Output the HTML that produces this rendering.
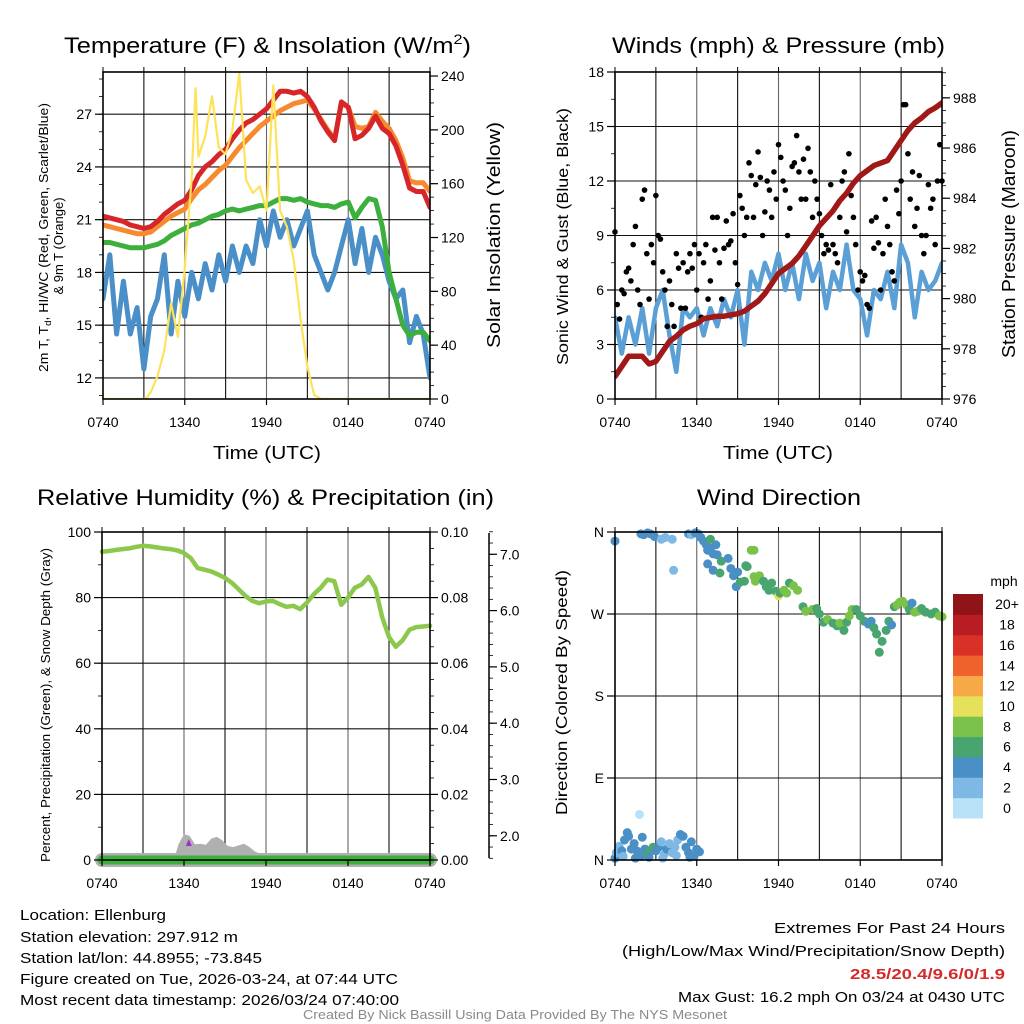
<!DOCTYPE html>
<html><head><meta charset="utf-8"><style>
html,body{margin:0;padding:0;background:#fff;}
svg{display:block;font-family:"Liberation Sans",Arial,sans-serif;}
</style></head><body>
<svg id="chart" width="1024" height="1024" viewBox="0 0 1024 1024" xmlns="http://www.w3.org/2000/svg">
<defs>
<clipPath id="c1"><rect x="103" y="72" width="327" height="327"/></clipPath>
<clipPath id="c2"><rect x="615" y="72" width="327" height="327"/></clipPath>
<clipPath id="c3"><rect x="90" y="532" width="352" height="340"/></clipPath>
<clipPath id="c4"><rect x="609" y="526" width="339" height="340"/></clipPath>
</defs>
<g id="layer-grid"></g>
<g id="layer-data"></g>
<g id="layer-axes"></g>
<g font-size="22" fill="#000">
<text x="64" y="53" textLength="407" lengthAdjust="spacingAndGlyphs">Temperature (F) &amp; Insolation (W/m<tspan dy="-9" font-size="14">2</tspan><tspan dy="9">)</tspan></text>
<text x="612" y="53" textLength="333" lengthAdjust="spacingAndGlyphs">Winds (mph) &amp; Pressure (mb)</text>
<text x="37" y="505" textLength="457" lengthAdjust="spacingAndGlyphs">Relative Humidity (%) &amp; Precipitation (in)</text>
<text x="697" y="505" textLength="164" lengthAdjust="spacingAndGlyphs">Wind Direction</text>
</g>
<g fill="#000">
<text x="213" y="459" font-size="18" textLength="108" lengthAdjust="spacingAndGlyphs">Time (UTC)</text>
<text x="723" y="459" font-size="18" textLength="110" lengthAdjust="spacingAndGlyphs">Time (UTC)</text>
<text transform="translate(48,372) rotate(-90)" font-size="13" textLength="269" lengthAdjust="spacingAndGlyphs">2m T, T<tspan font-size="9" dy="3">d</tspan><tspan dy="-3">, HI/WC (Red, Green, Scarlet/Blue)</tspan></text>
<text transform="translate(63,246) rotate(-90)" font-size="13" text-anchor="middle">&amp; 9m T (Orange)</text>
<text transform="translate(500,348) rotate(-90)" font-size="18" textLength="226" lengthAdjust="spacingAndGlyphs">Solar Insolation (Yellow)</text>
<text transform="translate(568,365) rotate(-90)" font-size="16" textLength="257" lengthAdjust="spacingAndGlyphs">Sonic Wind &amp; Gust (Blue, Black)</text>
<text transform="translate(1015,358) rotate(-90)" font-size="18" textLength="228" lengthAdjust="spacingAndGlyphs">Station Pressure (Maroon)</text>
<text transform="translate(50,862) rotate(-90)" font-size="13" textLength="314" lengthAdjust="spacingAndGlyphs">Percent, Precipitation (Green), &amp; Snow Depth (Gray)</text>
<text transform="translate(567,815) rotate(-90)" font-size="16" textLength="245" lengthAdjust="spacingAndGlyphs">Direction (Colored By Speed)</text>
<text x="1004" y="586" font-size="14" text-anchor="middle">mph</text>
</g>
<g font-size="15" fill="#000">
<text x="20" y="920" textLength="146" lengthAdjust="spacingAndGlyphs">Location: Ellenburg</text>
<text x="20" y="942" textLength="218" lengthAdjust="spacingAndGlyphs">Station elevation: 297.912 m</text>
<text x="20" y="963" textLength="242" lengthAdjust="spacingAndGlyphs">Station lat/lon: 44.8955; -73.845</text>
<text x="20" y="984" textLength="378" lengthAdjust="spacingAndGlyphs">Figure created on Tue, 2026-03-24, at 07:44 UTC</text>
<text x="20" y="1005" textLength="379" lengthAdjust="spacingAndGlyphs">Most recent data timestamp: 2026/03/24 07:40:00</text>
</g>
<g font-size="15" fill="#000">
<text x="774" y="933" textLength="231" lengthAdjust="spacingAndGlyphs">Extremes For Past 24 Hours</text>
<text x="622" y="956" textLength="383" lengthAdjust="spacingAndGlyphs">(High/Low/Max Wind/Precipitation/Snow Depth)</text>
<text x="850" y="979" textLength="155" lengthAdjust="spacingAndGlyphs" fill="#d42a2a" font-weight="bold">28.5/20.4/9.6/0/1.9</text>
<text x="678" y="1002" textLength="327" lengthAdjust="spacingAndGlyphs">Max Gust: 16.2 mph On 03/24 at 0430 UTC</text>
</g>
<text x="515" y="1019" font-size="12.5" fill="#8a8a8a" text-anchor="middle" textLength="424" lengthAdjust="spacingAndGlyphs">Created By Nick Bassill Using Data Provided By The NYS Mesonet</text>
</svg>
<script>
// ---------- data ----------
const halfHours=[0,0.5,1,1.5,2,2.5,3,3.5,4,4.5,5,5.5,6,6.5,7,7.5,8,8.5,9,9.5,10,10.5,11,11.5,12,12.5,13,13.5,14,14.5,15,15.5,16,16.5,17,17.5,18,18.5,19,19.5,20,20.5,21,21.5,22,22.5,23,23.5,24];
const timeTickLabels=["0740","1340","1940","0140","0740"];
const timeTickHours=[0,6,12,18,24];
const tempRed=[21.2,21.1,21.0,20.9,20.7,20.6,20.5,20.6,20.9,21.3,21.6,21.9,22.1,22.7,23.5,24.0,24.3,24.7,25.0,25.6,26.1,26.5,26.7,27.0,27.3,27.8,28.3,28.3,28.2,28.3,28.0,27.4,26.6,26.0,25.5,27.7,27.4,25.6,25.8,26.2,26.9,26.2,25.9,25.2,24.1,22.8,22.6,22.6,21.7];
const tempOrange=[20.7,20.6,20.5,20.4,20.3,20.2,20.2,20.3,20.6,20.9,21.2,21.4,21.6,22.2,22.7,23.0,23.4,23.8,24.1,24.6,25.1,25.5,25.9,26.3,26.6,26.9,27.2,27.4,27.6,27.7,27.8,27.3,26.7,26.1,25.6,27.6,27.4,26.3,26.2,26.3,27.1,26.6,26.2,25.5,24.5,23.2,23.1,23.1,22.6];
const tempGreen=[19.7,19.7,19.6,19.5,19.4,19.4,19.4,19.5,19.6,19.8,20.1,20.3,20.5,20.7,20.8,21.0,21.2,21.3,21.5,21.6,21.5,21.6,21.7,21.8,21.8,22.0,22.2,22.2,22.1,22.2,22.0,21.9,21.8,21.8,21.7,21.9,22.0,21.1,21.7,22.2,22.1,20.6,18.0,16.5,15.0,14.4,14.6,14.6,14.1];
const tempBlue=[16.5,19.0,14.5,17.5,14.5,16.0,12.5,15.5,16.5,19.0,14.5,17.5,15.5,18.0,16.5,18.5,17.0,19.0,17.5,19.5,18.0,19.5,18.5,21.0,19.5,21.5,20.0,21.0,19.5,20.5,21.5,19.0,18.0,17.0,18.0,19.5,21.0,18.5,20.5,18.0,20.0,19.0,17.5,16.5,17.0,14.0,15.5,14.5,12.0];
const solarHours=[0,3,3.2,3.5,4,4.5,5,5.5,6,6.5,6.8,7,7.5,8,8.5,9,9.5,10,10.5,11,11.5,12,12.5,13,13.5,14,14.5,15,15.5,16,24];
const solarValues=[0,0,1,5,17,36,71,46,98,163,231,180,195,225,187,182,200,242,163,153,158,140,233,140,128,103,59,24,3,0,0];
const windSpeed=[4.5,2.5,4.5,3.0,5.0,2.5,5.0,6.0,3.5,1.5,5.0,4.5,5.0,3.5,5.0,4.0,5.5,4.5,6.0,3.0,7.0,6.0,7.5,6.5,8.0,6.0,7.5,5.5,8.0,6.5,7.5,5.0,7.0,6.0,8.5,6.0,5.5,3.5,6.0,5.5,7.0,5.0,8.5,7.5,4.5,7.0,6.0,6.5,7.5];
const gustValues=[9.2,5.2,4.4,6.0,5.8,7.0, 7.2,6.5,8.5,9.5,6.0,5.2, 11.0,11.5,8.0,5.5,8.5,7.5, 11.2,9.0,8.8,7.0,6.0,4.0, 6.5,5.2,4.0,8.0,7.2,5.0, 7.5,5.0,7.0,8.0,7.2,8.5, 6.0,8.0,4.5,7.5,8.5,5.5, 6.5,10.0,8.2,10.0,7.5,5.5, 8.3,9.8,8.5,8.7,10.2,7.5, 6.3,11.2,10.5,9.0,10.0,13.0, 12.3,10.0,11.8,13.6,12.2,9.0, 10.3,12.0,11.5,10.0,12.5,11.0, 14.0,13.3,12.0,11.5,9.0,10.5, 12.8,13.0,14.5,12.5,11.0,13.2, 11.0,13.8,12.5,10.0,12.0,11.0, 10.2,9.0,8.0,8.5,8.2,11.8, 8.5,8.0,7.5,10.0,12.0,12.5, 9.2,13.5,11.2,10.0,8.5,6.0, 7.0,6.5,6.8,5.2,5.0,9.8, 8.3,10.0,8.6,6.0,8.0,11.0, 9.5,8.5,7.0,6.5,11.5,10.2, 12.0,16.2,16.2,13.5,11.0,12.5, 9.5,10.5,12.3,9.0,8.0,9.0, 11.8,10.5,11.0,8.5,12.0,14.0,12.0];
const pressure=[976.9,977.3,977.7,977.7,977.7,977.4,977.5,977.9,978.3,978.5,978.75,978.9,979.0,979.2,979.25,979.3,979.3,979.35,979.4,979.5,979.7,979.9,980.2,980.6,981.0,981.2,981.4,981.7,982.1,982.5,982.9,983.2,983.5,983.9,984.2,984.6,984.9,985.1,985.3,985.4,985.5,985.9,986.3,986.7,987.0,987.2,987.45,987.6,987.8];
const humidity=[94,94.2,94.5,94.8,95,95.5,95.8,95.6,95.3,95,94.8,94.4,93.6,92,89,88.5,88,87,86,84.5,82.5,80.5,79,78.3,78.8,79,78,77.2,77.5,76.5,78.5,81,83,85.5,85,77.8,80,83,84,86.3,83,74,68,65,67,70.2,71,71.2,71.4];
const precip=[0,0,0,0,0,0,0,0,0,0,0,0,0,0,0,0,0,0,0,0,0,0,0,0,0,0,0,0,0,0,0,0,0,0,0,0,0,0,0,0,0,0,0,0,0,0,0,0,0];
const snowHours=[0,5.3,5.6,6.0,6.4,6.8,7.2,7.6,8.0,8.4,8.8,9.2,9.6,10.0,10.4,10.8,11.2,11.6,12.0,24];
const snowDepth=[1.6,1.6,1.85,2.03,2.0,1.85,1.86,1.84,1.95,1.98,1.92,1.82,1.8,1.83,1.86,1.8,1.72,1.68,1.6,1.6];
const dirHours=[0,1.9,2.1,2.4,2.6,2.9,3.4,3.7,4.2,4.3,5.4,5.6,5.9,6.1,6.3,6.5,6.7,6.8,7.0,7.2,7.0,7.4,7.5,6.8,7.2,7.8,7.7,8.3,8.5,8.7,8.9,9.0,9.2,9.5,9.7,10.0,10.2,9.6,10.3,10.6,10.9,11.1,11.5,11.3,10.2,11.8,12.0,12.1,12.4,12.6,12.8,13.1,13.4,13.8,14.0,14.5,14.8,15.0,15.3,15.6,16.0,16.3,16.5,16.8,17.0,17.2,17.4,17.7,18.0,18.3,18.6,18.8,19.0,19.2,19.4,19.6,19.9,20.1,20.3,20.5,20.7,20.9,21.1,21.4,21.6,21.8,22.0,22.2,22.5,22.8,23.2,23.5,23.8,24,
0,0.1,0.3,0.5,0.7,0.9,1.0,1.2,1.4,1.6,1.8,1.9,2.0,2.2,2.4,2.6,2.8,3.0,3.2,3.4,3.6,3.8,4.0,4.2,4.4,4.6,4.8,5.0,5.2,5.4,5.6,5.8,6.0,6.2,0.6,1.5,2.5,3.5,4.5,5.5];
const dirValues=[350,358,357,359,358,355,352,354,352,318,358,357,359,358,354,350,346,340,342,336,352,346,335,325,318,328,315,331,320,312,300,316,305,306,322,340,340,323,306,312,306,300,304,296,311,295,290,293,296,293,304,301,296,278,273,275,276,270,261,264,260,257,260,252,261,268,275,275,268,262,259,262,255,248,228,240,252,262,258,278,280,283,284,280,275,282,272,273,276,272,270,272,268,267,
2,8,15,10,22,30,26,12,18,10,50,4,25,12,6,10,14,10,14,20,6,12,18,8,14,22,28,26,14,8,20,4,12,9,4,2,3,2,5,3];
const dirSpeeds=[5,5,5,5,5,5,3,3,3,3,5,3,5,5,5,5,5,5,5,5,7,5,5,5,5,7,7,5,5,5,5,5,7,7,7,9,9,7,9,9,7,7,7,7,9,7,10,7,9,9,7,9,9,7,9,9,7,7,7,9,7,7,9,7,7,9,9,7,7,7,5,5,7,7,7,7,7,7,5,7,9,9,9,9,7,5,9,9,7,7,7,7,9,9,
5,3,3,5,5,5,5,5,5,5,1,5,5,5,7,7,7,5,5,3,3,5,3,3,3,3,5,5,5,5,5,5,5,5,3,5,5,3,3,5];
const speedBinLabels=["0","2","4","6","8","10","12","14","16","18","20+"];
const speedBinColors=["#b7e2f7","#7db9e4","#4a8fc5","#48a56f","#7bc24a","#e6e15a","#f6a947","#f0622b","#d93127","#b91c23","#8e1418"];
const tempTicks=[12,15,18,21,24,27];
const solarTicks=[0,40,80,120,160,200,240];
const windTicks=[0,3,6,9,12,15,18];
const pressureTicks=[976,978,980,982,984,986,988];
const rhTicks=[0,20,40,60,80,100];
const precipTickLabels=["0.00","0.02","0.04","0.06","0.08","0.10"];
const precipTicks=[0,0.02,0.04,0.06,0.08,0.10];
const snowTicks=[2,3,4,5,6,7];
const dirTickLabels=["N","E","S","W","N"];
const dirTicks=[0,90,180,270,360];

// ---------- scales ----------
const NS="http://www.w3.org/2000/svg";
const P1={x0:103,x1:430,y0:72,y1:399}, P2={x0:615,x1:942,y0:72,y1:399}, P3={x0:102,x1:430,y0:532,y1:860}, P4={x0:615,x1:942,y0:532,y1:860};
function xT(p,h){return p.x0+(p.x1-p.x0)*h/24;}
function yL(p,v,lo,hi){return p.y1-(v-lo)/(hi-lo)*(p.y1-p.y0);}
const yTemp=v=>yL(P1,v,10.8,29.4), ySolar=v=>yL(P1,v,0,243);
const yWind=v=>yL(P2,v,0,18), yPres=v=>yL(P2,v,976,989.03);
const yRH=v=>yL(P3,v,0,100), yPrec=v=>yL(P3,v,0,0.1), ySnow=v=>860-(v-1.57)*56.3;
const yDir=v=>yL(P4,v,0,360);
const gGrid=document.getElementById('layer-grid'), gData=document.getElementById('layer-data'), gAxes=document.getElementById('layer-axes');
function mk(tag,attrs,parent){const e=document.createElementNS(NS,tag);for(const k in attrs)e.setAttribute(k,attrs[k]);parent.appendChild(e);return e;}

// ---------- grid + frames ----------
[P1,P2,P3,P4].forEach((p,pi)=>{
  for(let h=3;h<24;h+=3){
    const l=mk('line',{x1:xT(p,h),x2:xT(p,h),y1:p.y0,y2:p.y1,stroke:h%6===0?'#666':'#111','stroke-width':1.1},gGrid);
    
    
  }
});
function hGrid(p,vals,f){vals.forEach(v=>{const y=f(v);if(y>p.y0+1&&y<p.y1-1){
  const l=mk('line',{x1:p.x0,x2:p.x1,y1:y,y2:y,stroke:'#111','stroke-width':1.1},gGrid);
  
  }});}
hGrid(P1,tempTicks,yTemp); hGrid(P2,windTicks,yWind); hGrid(P3,rhTicks,yRH); hGrid(P4,dirTicks,yDir);

function path(pts,attrs,clip,name){
  const d=pts.map((q,i)=>(i?'L':'M')+q[0].toFixed(1)+','+q[1].toFixed(1)).join('');
  const e=mk('path',Object.assign({d:d,fill:'none','stroke-linejoin':'round','stroke-linecap':'round','clip-path':'url(#'+clip+')'},attrs),gData);
  
  
  return e;
}
// Panel 1
path(tempBlue.map((v,i)=>[xT(P1,halfHours[i]),yTemp(v)]),{stroke:'#4a8fc8','stroke-width':5},'c1','heat-index-windchill-line');
path(tempGreen.map((v,i)=>[xT(P1,halfHours[i]),yTemp(v)]),{stroke:'#3daf3d','stroke-width':5},'c1','dewpoint-line');
path(tempOrange.map((v,i)=>[xT(P1,halfHours[i]),yTemp(v)]),{stroke:'#f7892e','stroke-width':5},'c1','temp-9m-line');
path(tempRed.map((v,i)=>[xT(P1,halfHours[i]),yTemp(v)]),{stroke:'#d7262a','stroke-width':5},'c1','temp-2m-line');
path(solarValues.map((v,i)=>[xT(P1,solarHours[i]),ySolar(v)]),{stroke:'#fde25a','stroke-width':2.2},'c1','solar-insolation-line');
// Panel 2
path(windSpeed.map((v,i)=>[xT(P2,halfHours[i]),yWind(v)]),{stroke:'#5a9fd6','stroke-width':4.5},'c2','sonic-wind-line');
gustValues.forEach((v,i)=>{
  const c=mk('circle',{cx:xT(P2,i/6),cy:yWind(v),r:2.8,fill:'#000'},gData);
  
  
});
path(pressure.map((v,i)=>[xT(P2,halfHours[i]),yPres(v)]),{stroke:'#a01818','stroke-width':5.5},'c2','pressure-line');
// Panel 3
path(humidity.map((v,i)=>[xT(P3,halfHours[i]),yRH(v)]),{stroke:'#8cc84b','stroke-width':4.5},'c3','humidity-line');
{
  const pts=snowDepth.map((v,i)=>[xT(P3,snowHours[i]),ySnow(v)]);
  const d='M'+pts.map(q=>q[0].toFixed(1)+','+q[1].toFixed(1)).join('L')+'L'+P3.x1+',862L'+P3.x0+',862Z';
  const a=mk('path',{d:d,fill:'#b0b0b0'},gData);
  
  
}
path(precip.map((v,i)=>[xT(P3,halfHours[i]),yPrec(v)]),{stroke:'#b0b0b0','stroke-width':14},'c3','precipitation-outline');
path(precip.map((v,i)=>[xT(P3,halfHours[i]),yPrec(v)]),{stroke:'#3daf3d','stroke-width':9},'c3','precipitation-line');
{
  const t=mk('path',{d:'M'+(xT(P3,6.35)-3)+',846L'+(xT(P3,6.35)+3)+',846L'+xT(P3,6.35)+',839Z',fill:'#9b2fd8'},gData);
  
  
}
// Panel 4
dirValues.forEach((v,i)=>{
  const bin=Math.max(0,Math.min(10,Math.floor(dirSpeeds[i]/2)));
  const c=mk('circle',{cx:xT(P4,dirHours[i]),cy:yDir(v),r:4.5,fill:speedBinColors[bin],'clip-path':'url(#c4)'},gData);
  
  
});
// colorbar
speedBinColors.forEach((col,i)=>{
  const y=818-(i+1)*(224/11);
  const r=mk('rect',{x:953,y:y,width:30,height:224/11+0.5,fill:col},gAxes);
  
  
  const t=mk('text',{x:1007,y:y+224/22+5,'font-size':14,'text-anchor':'middle'},gAxes);
  t.textContent=speedBinLabels[i];
  
  
});

// ---------- axes ----------
function frame(p){
  const r=mk('rect',{x:p.x0,y:p.y0,width:p.x1-p.x0,height:p.y1-p.y0,fill:'none',stroke:'#000','stroke-width':1.6},gAxes);
  
  
  for(let h=0;h<=24;h+=3){
    const t=mk('line',{x1:xT(p,h),x2:xT(p,h),y1:p.y0,y2:p.y0-5,stroke:'#000','stroke-width':1},gAxes);
    
    
  }
  timeTickHours.forEach((h,i)=>{
    const t=mk('line',{x1:xT(p,h),x2:xT(p,h),y1:p.y1,y2:p.y1+6,stroke:'#000','stroke-width':1.2},gAxes);
    
    
    const l=mk('text',{x:xT(p,h),y:p.y1+28,'font-size':14,'text-anchor':'middle'},gAxes);
    l.textContent=timeTickLabels[i];
    
    
  });
}
[P1,P2,P3,P4].forEach(frame);
function yAxis(x,side,vals,labels,f,minorStep,lo,hi,name){
  const dir=side==='left'?-1:1;
  vals.forEach((v,i)=>{
    const y=f(v);
    const t=mk('line',{x1:x,x2:x+dir*8,y1:y,y2:y,stroke:'#000','stroke-width':1.2},gAxes);
    
    
    const l=mk('text',{x:x+dir*11,y:y+5,'font-size':14,'text-anchor':side==='left'?'end':'start'},gAxes);
    l.textContent=labels[i];
    
    
  });
  if(minorStep){for(let v=lo;v<=hi+1e-9;v+=minorStep){const y=f(v);
    const m=mk('line',{x1:x,x2:x+dir*4,y1:y,y2:y,stroke:'#000','stroke-width':0.8},gAxes);
    
    }}
}
yAxis(P1.x0,'left',tempTicks,tempTicks.map(String),yTemp,1,11,29,'temperature-axis');
yAxis(P1.x1,'right',solarTicks,solarTicks.map(String),ySolar,10,0,240,'solar-axis');
yAxis(P2.x0,'left',windTicks,windTicks.map(String),yWind,1.5,0,18,'wind-axis');
yAxis(P2.x1,'right',pressureTicks,pressureTicks.map(String),yPres,0.5,976,989,'pressure-axis');
yAxis(P3.x0,'left',rhTicks,rhTicks.map(String),yRH,10,0,100,'humidity-axis');
yAxis(P3.x1,'right',precipTicks,precipTickLabels,yPrec,0.005,0,0.1,'precipitation-axis');
yAxis(P4.x0,'left',dirTicks,dirTickLabels,yDir,0,0,0,'direction-axis');
{
  const s=mk('line',{x1:489,x2:489,y1:533,y2:858,stroke:'#000','stroke-width':1.5},gAxes);
  
  
}
yAxis(489,'right',snowTicks,snowTicks.map(v=>v.toFixed(1)),ySnow,0.2,1.6,7.4,'snow-depth-axis');
</script>
</body></html>
